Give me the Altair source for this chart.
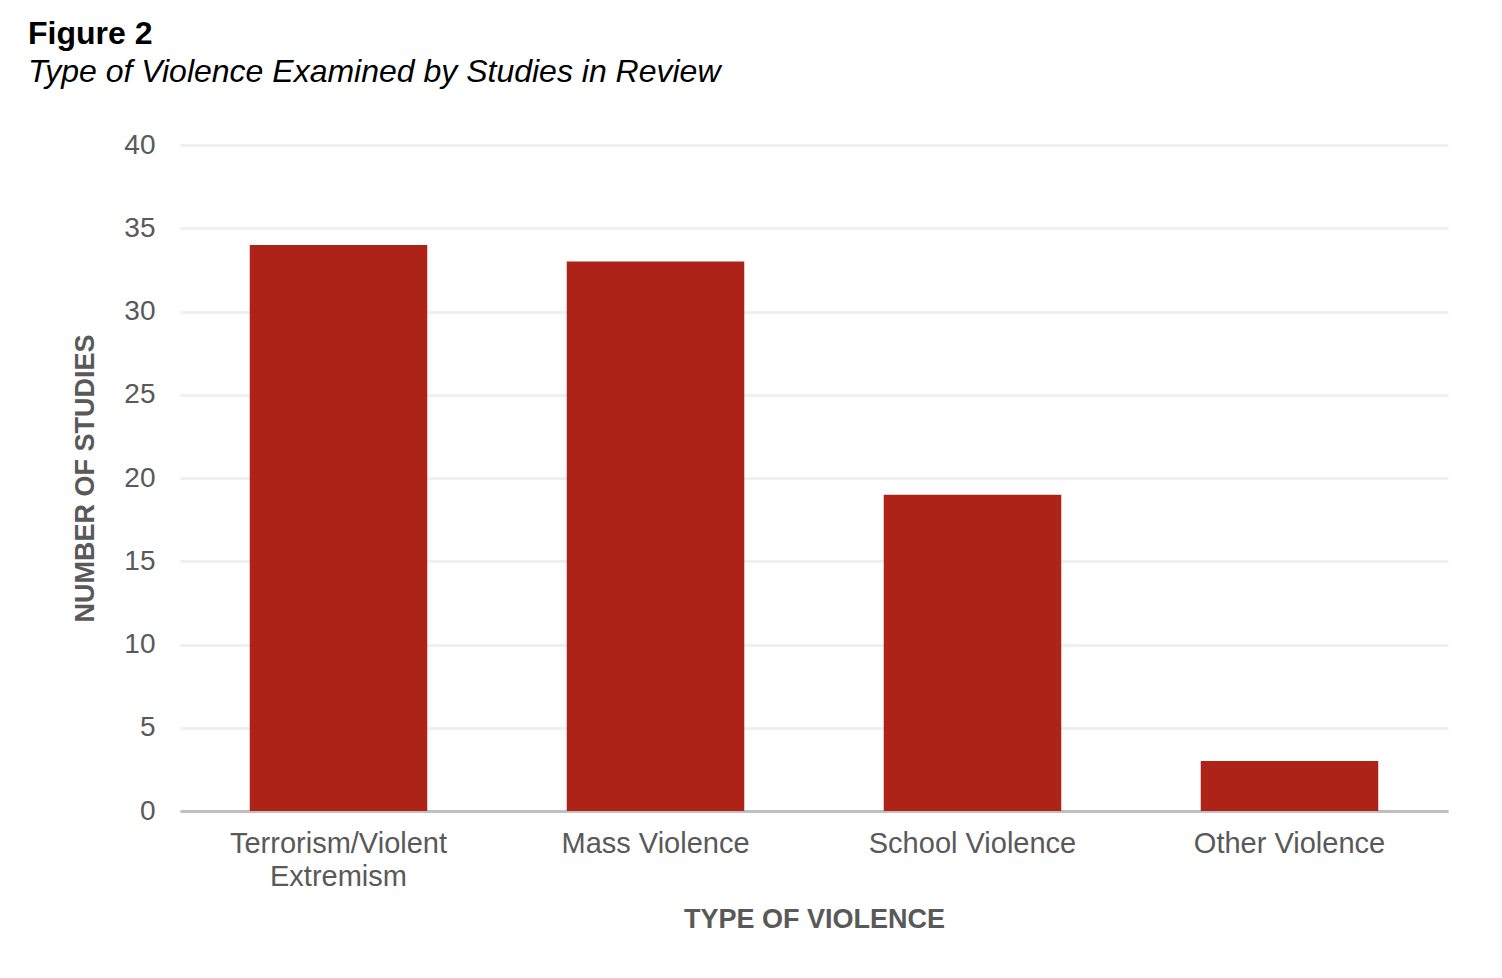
import altair as alt
import pandas as pd

categories = ["Terrorism/Violent|Extremism", "Mass Violence", "School Violence", "Other Violence"]
values = [34, 33, 19, 3]

df = pd.DataFrame({"type": categories, "count": values})

FONT = "Liberation Sans"
GREY = "#595959"

chart = alt.Chart(df).mark_bar(color="#AE2318").encode(
    x=alt.X("type:N", sort=categories,
            scale=alt.Scale(paddingInner=0.44, paddingOuter=0.22),
            axis=alt.Axis(title="TYPE OF VIOLENCE", labelAngle=0,
                          labelExpr="split(datum.label, '|')",
                          labelFont=FONT, labelFontSize=29, labelColor=GREY,
                          labelPadding=18, labelLineHeight=33, labelLimit=0,
                          titleFont=FONT, titleFontSize=27, titleFontWeight="bold",
                          titleColor=GREY, titlePadding=15,
                          ticks=False, domainColor="#bfbfbf", domainWidth=3,
                          grid=False)),
    y=alt.Y("count:Q", scale=alt.Scale(domain=[0, 40]),
            axis=alt.Axis(title="NUMBER OF STUDIES", values=[0, 5, 10, 15, 20, 25, 30, 35, 40],
                          labelFont=FONT, labelFontSize=28, labelColor=GREY,
                          labelPadding=25, ticks=False, domain=False,
                          gridColor="#f0f0f0", gridWidth=3,
                          titleFont=FONT, titleFontSize=27, titleFontWeight="bold",
                          titleColor=GREY, titlePadding=24)),
).properties(
    width=1268,
    height=666,
    background="white",
    title=alt.TitleParams(
        text="Figure 2",
        subtitle="Type of Violence Examined by Studies in Review",
        anchor="start", frame="group", dx=-152,
        font=FONT, fontSize=32, fontWeight="bold", color="black",
        subtitleFont=FONT, subtitleFontSize=32, subtitleFontStyle="italic",
        subtitleColor="black", subtitlePadding=6, offset=42,
    ),
    autosize=alt.AutoSizeParams(type="none"),
    padding={"left": 172, "top": 137, "right": 40, "bottom": 150},
).configure_view(strokeWidth=0)

chart.save("out.html", embed_options={"renderer": "svg", "actions": False})
